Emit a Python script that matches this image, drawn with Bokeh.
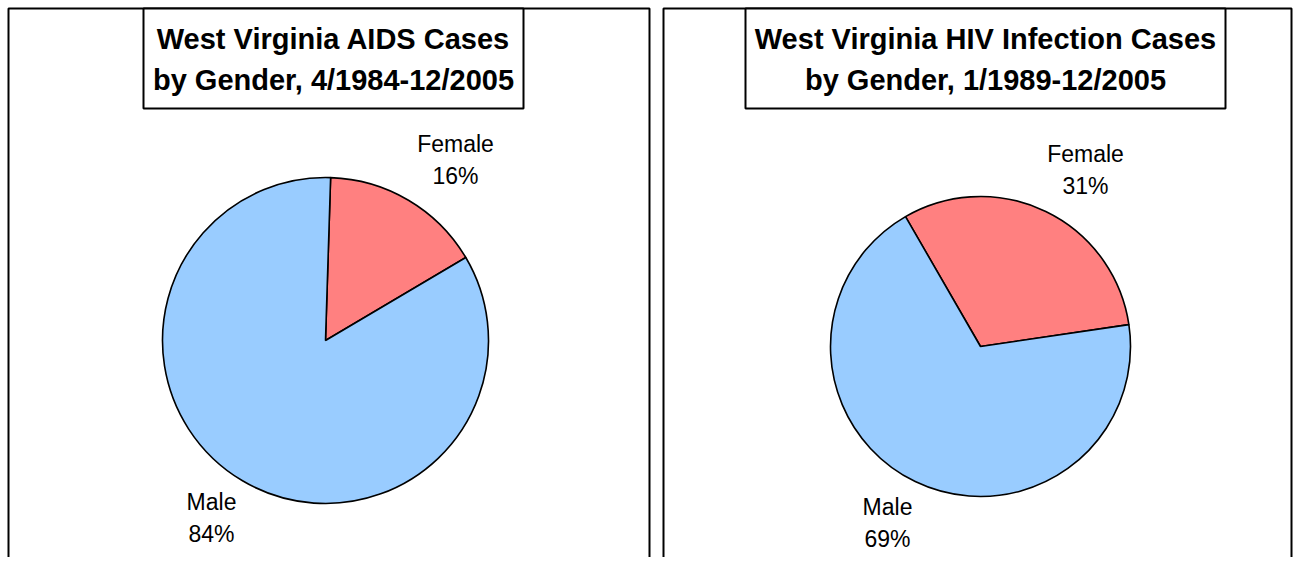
import math
from bokeh.plotting import figure
from bokeh.models import Range1d
from bokeh.embed import file_html
from bokeh.resources import INLINE
from bokeh.core.properties import value

# ---------------- data ----------------
categories = ["Female", "Male"]
aids_pct = [16, 84]
hiv_pct = [31, 69]
aids_title = ["West Virginia AIDS Cases", "by Gender, 4/1984-12/2005"]
hiv_title = ["West Virginia HIV Infection Cases", "by Gender, 1/1989-12/2005"]
slice_colors = ["#FF8080", "#99CCFF"]

# ---------------- layout (picture pixel coordinates, y down) ----------------
W, H = 1293, 557


def Y(py):
    return H - py


panels = [
    dict(values=aids_pct, title=aids_title, box=(8, 649), tbox=(143, 523, 108),
         title_y=(38, 79), center=(325, 340), r=163, start=88.2,
         labels=[(455, 143), (211, 501)]),
    dict(values=hiv_pct, title=hiv_title, box=(663, 1291), tbox=(745, 1225, 108),
         title_y=(38, 79), center=(980, 346), r=150, start=120.0,
         labels=[(1085, 153), (887, 506)]),
]

p = figure(width=W, height=H, x_range=Range1d(0, W), y_range=Range1d(0, H),
           output_backend="svg", toolbar_location=None, min_border=0,
           x_axis_type=None, y_axis_type=None, outline_line_color=None)
p.grid.visible = False

FONT = value("Liberation Sans")

for pn in panels:
    x0, x1 = pn["box"]
    p.line(x=[x0, x0, x1, x1], y=[Y(600), Y(8), Y(8), Y(600)], line_color="black", line_width=2)
    # pie slices, clockwise from the start angle
    cx, cy = pn["center"]
    total = sum(pn["values"])
    ang = pn["start"]
    starts, ends = [], []
    for v in pn["values"]:
        a1 = ang
        a0 = ang - v / total * 360.0
        starts.append(math.radians(a0))
        ends.append(math.radians(a1))
        ang = a0
    p.wedge(x=[cx] * len(starts), y=[Y(cy)] * len(starts), radius=pn["r"],
            start_angle=starts, end_angle=ends, direction="anticlock",
            fill_color=slice_colors, line_color="black", line_width=1.6)
    # labels
    lx = [pt[0] for pt in pn["labels"]]
    ly = [pt[1] for pt in pn["labels"]]
    p.text(x=lx, y=[Y(v) for v in ly], text=categories, text_font=FONT,
           text_font_size="23px", text_align="center", text_baseline="middle",
           text_color="black")
    p.text(x=lx, y=[Y(v + 32) for v in ly], text=[f"{v}%" for v in pn["values"]],
           text_font=FONT, text_font_size="23px", text_align="center",
           text_baseline="middle", text_color="black")
    # title box
    tl, tr, tb = pn["tbox"]
    p.quad(left=[tl], right=[tr], top=[Y(8)], bottom=[Y(tb)], fill_color="white",
           line_color="black", line_width=2)
    tcx = (tl + tr) / 2
    p.text(x=[tcx, tcx], y=[Y(pn["title_y"][0]), Y(pn["title_y"][1])], text=pn["title"],
           text_font=FONT, text_font_size="29px", text_font_style="bold",
           text_align="center", text_baseline="middle", text_color="black")

open("out.html", "w").write(file_html(p, INLINE))
